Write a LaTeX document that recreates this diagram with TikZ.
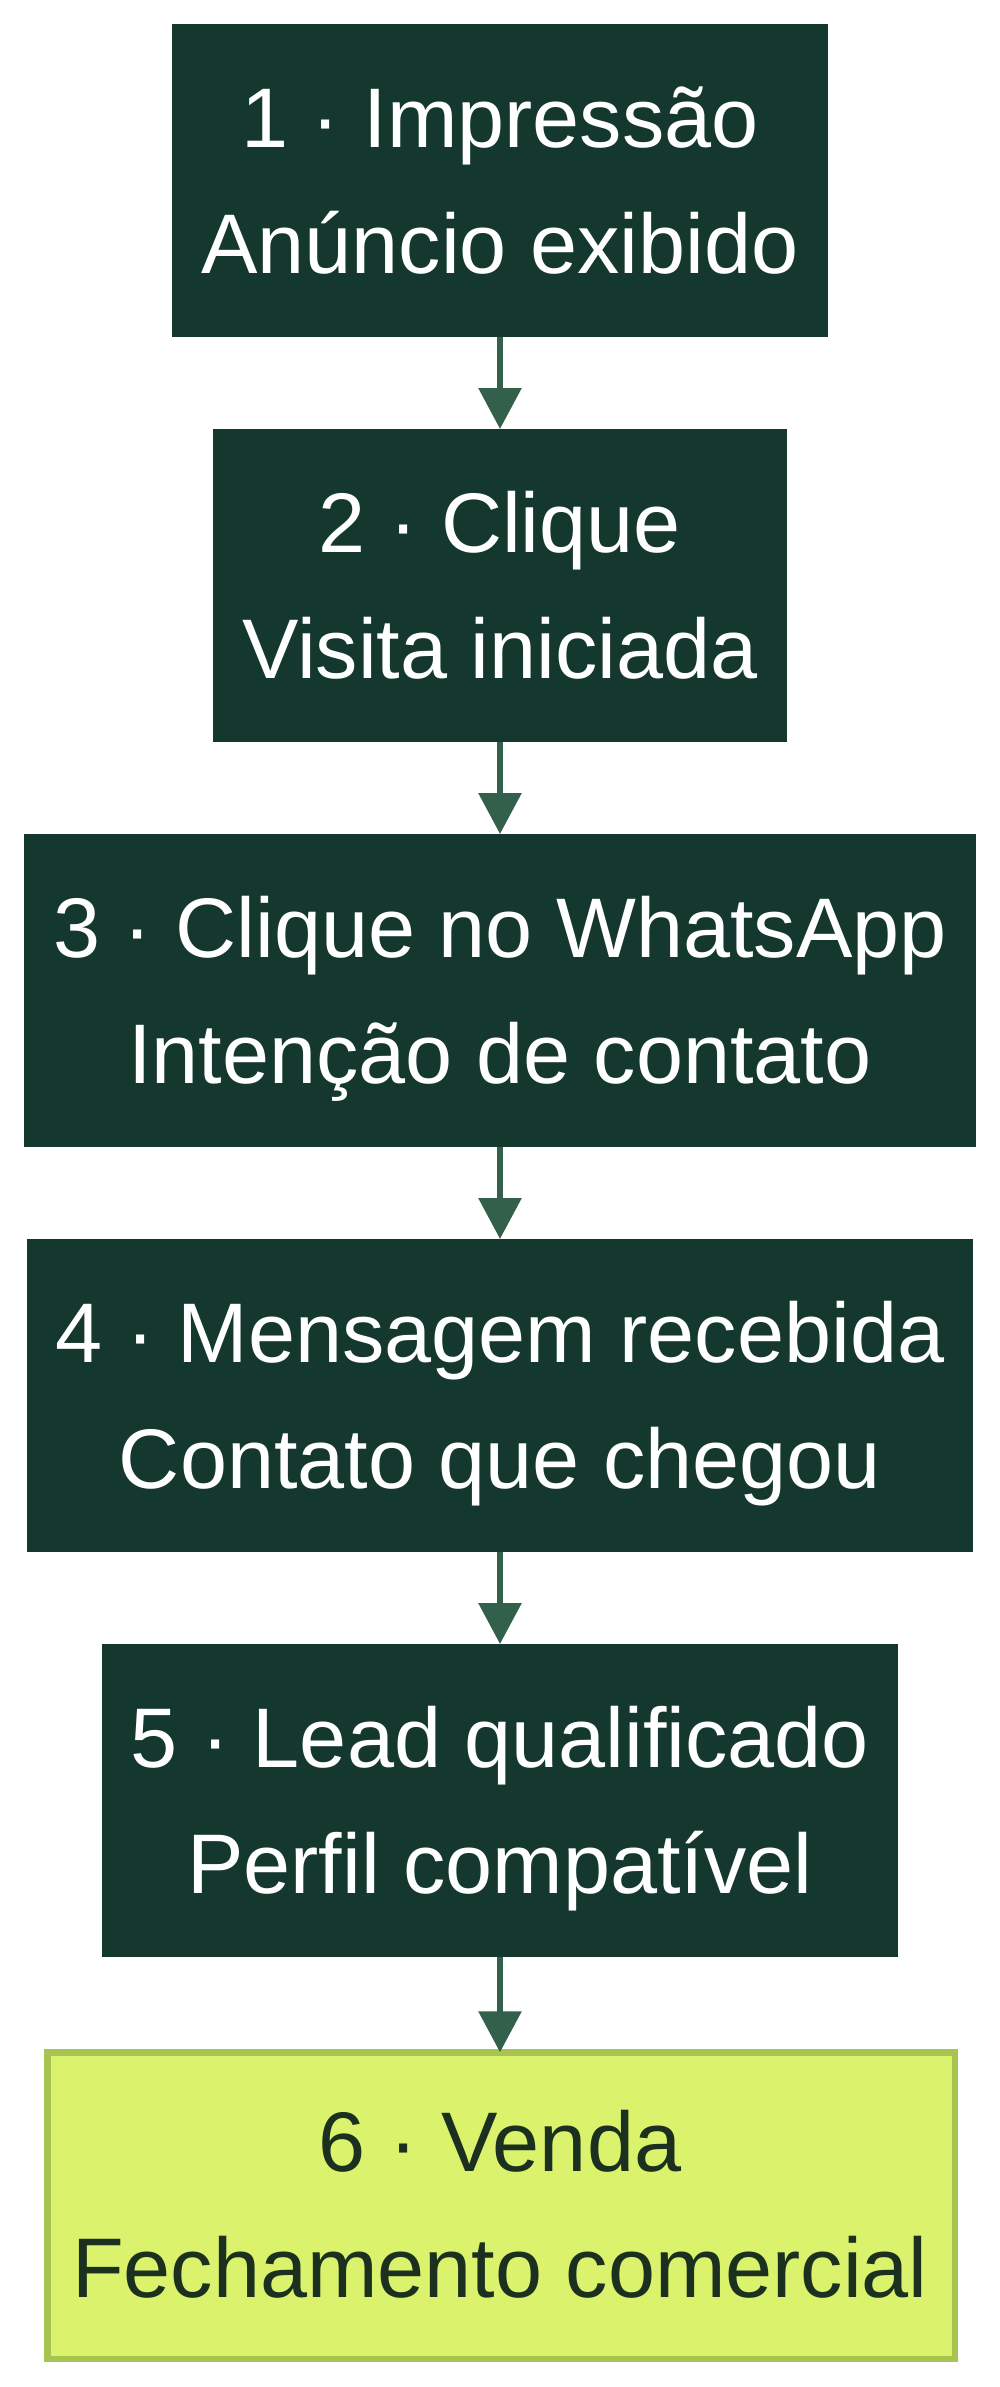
\documentclass[tikz,border=0pt]{standalone}
\usepackage{fontspec}
\setmainfont{Liberation Sans}
\usetikzlibrary{arrows.meta}
\definecolor{boxdark}{HTML}{14382D}
\definecolor{arrowc}{HTML}{33604A}
\definecolor{vfill}{HTML}{DAF26C}
\definecolor{vborder}{HTML}{A8C450}
\definecolor{vtext}{HTML}{1B301F}
\begin{document}
\begin{tikzpicture}[x=0.5pt,y=-0.5pt,
  stage/.style={rectangle, fill=boxdark, draw=none, inner sep=0pt, outer sep=0pt, minimum height=156.5pt},
  sale/.style={rectangle, fill=vfill, draw=vborder, line width=3.25pt, inner sep=0pt, outer sep=0pt, minimum height=153.25pt, minimum width=453.75pt},
  txt/.style={anchor=base, inner sep=0pt, text=white, font=\fontsize{42.3pt}{50pt}\selectfont},
  saletxt/.style={txt, text=vtext},
  flow/.style={draw=arrowc, line width=3pt, -{Triangle[length=20.5pt,width=21pt]}}]
\useasboundingbox (0,0) rectangle (1000,2387);
\node[stage, minimum width=328pt] (b1) at (500,180.5) {};
\node[stage, minimum width=287pt] (b2) at (500,585.5) {};
\node[stage, minimum width=476pt] (b3) at (500,990.5) {};
\node[stage, minimum width=473pt] (b4) at (500,1395.5) {};
\node[stage, minimum width=398pt] (b5) at (500,1800.5) {};
\node[sale] (b6) at (501,2205.5) {};
\node[txt] (t1a) at (500,147.5) {1 · Impressão};
\node[txt] (t1b) at (500,273.5) {Anúncio exibido};
\node[txt] (t2a) at (500,552.5) {2 · Clique};
\node[txt] (t2b) at (500,678.5) {Visita iniciada};
\node[txt] (t3a) at (500,957.5) {3 · Clique no WhatsApp};
\node[txt] (t3b) at (500,1083.5) {Intenção de contato};
\node[txt] (t4a) at (500,1362.5) {4 · Mensagem recebida};
\node[txt] (t4b) at (500,1488.5) {Contato que chegou};
\node[txt] (t5a) at (500,1767.5) {5 · Lead qualificado};
\node[txt] (t5b) at (500,1893.5) {Perfil compatível};
\node[saletxt] (t6a) at (500,2171) {6 · Venda};
\node[saletxt] (t6b) at (500,2297) {Fechamento comercial};
\draw[flow] (b1.south) -- (b2.north);
\draw[flow] (b2.south) -- (b3.north);
\draw[flow] (b3.south) -- (b4.north);
\draw[flow] (b4.south) -- (b5.north);
\draw[flow] (b5.south) -- (b6.north -| b5.south);
\end{tikzpicture}
\end{document}
